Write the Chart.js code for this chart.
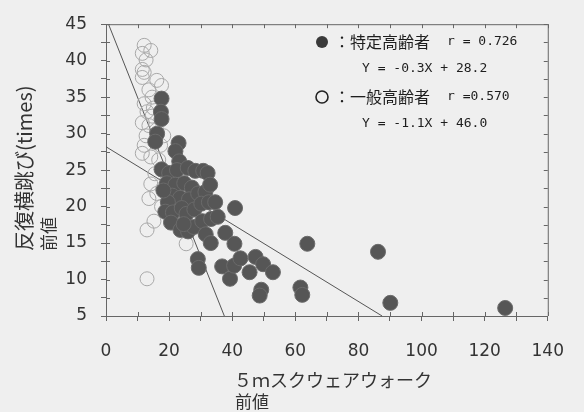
<!DOCTYPE html>
<html lang="ja">
<head>
<meta charset="utf-8">
<script src="https://cdn.jsdelivr.net/npm/chart.js@4"></script>
<style>
  html, body { margin: 0; padding: 0; background: #efefef; }
  #wrap { width: 584px; height: 412px; }
</style>
</head>
<body>
<div id="wrap"><canvas id="scatterChart" width="584" height="412"></canvas></div>
<script>
// 特定高齢者 (塗りつぶし)
const tokuteiX = [17.6, 17.4, 17.6, 16.2, 15.6, 23.0, 22.0, 23.2, 17.6, 20.0, 22.5, 25.9, 28.3, 30.8, 32.2,
  19.3, 22.0, 24.8, 27.2, 21.0, 23.5, 26.3, 29.2, 31.5, 19.6, 18.8, 21.2, 24.0, 25.5, 28.0, 30.2, 32.6, 34.6,
  40.9, 20.6, 23.6, 26.0, 27.8, 30.5, 33.3, 35.4, 31.6, 33.2, 37.8, 40.7, 29.1, 29.4, 36.8, 39.3, 40.6, 42.6,
  45.5, 47.4, 49.8, 52.9, 49.2, 48.7, 61.6, 62.2, 63.8, 86.2, 90.1, 126.5, 18.2, 33.0, 24.6];
const tokuteiY = [34.8, 33.0, 32.0, 30.0, 28.9, 28.7, 27.6, 26.2, 25.1, 24.6, 25.0, 25.3, 24.9, 24.9, 24.6,
  23.2, 23.0, 23.2, 22.6, 21.5, 21.2, 21.0, 21.8, 22.0, 20.6, 19.3, 19.2, 19.8, 19.0, 19.6, 20.4, 20.6, 20.6,
  19.8, 17.8, 16.8, 16.6, 17.2, 18.0, 18.3, 18.6, 16.2, 15.0, 16.4, 14.9, 12.8, 11.6, 11.8, 10.1, 11.9, 12.9,
  11.0, 13.1, 12.1, 11.0, 8.6, 7.8, 8.9, 7.9, 14.9, 13.8, 6.8, 6.1, 22.2, 23.0, 17.6];

// 一般高齢者 (白抜き)
const ippanX = [12.1, 14.2, 11.5, 12.7, 11.5, 12.1, 11.5, 16.1, 17.6, 13.6, 14.6, 12.1, 13.0, 14.6, 11.5,
  13.6, 12.7, 18.3, 12.1, 11.5, 14.2, 17.3, 16.7, 14.2, 13.6, 16.1, 15.2, 13.0, 13.0, 17.6, 25.4, 20.7,
  15.5, 18.0, 16.0, 15.0];
const ippanY = [42.1, 41.4, 41.0, 40.1, 38.8, 38.4, 37.7, 37.3, 36.6, 36.0, 35.0, 34.1, 33.0, 32.4, 31.5,
  31.1, 29.7, 29.7, 28.4, 27.3, 26.8, 28.4, 26.4, 23.1, 21.1, 21.8, 18.0, 16.8, 10.1, 20.0, 14.9, 18.2,
  24.5, 22.5, 30.5, 33.5];

// 回帰直線 (両端)
const tokuteiLineX = [0, 87.5];
const tokuteiLineY = [28.2, 5];
const ippanLineX = [0.8, 37.5];
const ippanLineY = [45, 5];

// 凡例テキスト
const legendNames = ['：特定高齢者', '：一般高齢者'];
const legendR = ['r = 0.726', 'r =0.570'];
const legendEq = ['Y = -0.3X + 28.2', 'Y = -1.1X + 46.0'];

// 軸
const xTickVals = [0, 10, 20, 30, 40, 50, 60, 70, 80, 90, 100, 110, 120, 130, 140];
const yTickVals = [5, 7.5, 10, 12.5, 15, 17.5, 20, 22.5, 25, 27.5, 30, 32.5, 35, 37.5, 40, 42.5, 45];
const xTitle = ['５ｍスクウェアウォーク', '前値'];
const yTitle = ['反復横跳び(times)', '前値'];

const toPts = (xs, ys) => xs.map((x, i) => ({ x: x, y: ys[i] }));

const axisColor = '#666';
const tickFont = { family: 'DejaVu Sans', size: 17 };

// 枠と内向きの目盛り、軸タイトル、凡例
const extras = {
    id: 'extras',
    afterDraw(chart) {
        const ctx = chart.ctx;
        const a = chart.chartArea;
        const xs = chart.scales.x, ys = chart.scales.y;
        ctx.save();
        ctx.strokeStyle = axisColor;
        ctx.lineWidth = 1;
        ctx.beginPath();
        ctx.moveTo(a.left, a.top + 0.5);
        ctx.lineTo(a.right + 0.5, a.top + 0.5);
        ctx.lineTo(a.right + 0.5, a.bottom);
        xTickVals.forEach(v => {
            const px = Math.round(xs.getPixelForValue(v)) + 0.5;
            ctx.moveTo(px, a.top); ctx.lineTo(px, a.top + 4);
            ctx.moveTo(px, a.bottom); ctx.lineTo(px, a.bottom - 4);
        });
        yTickVals.forEach(v => {
            const py = Math.round(ys.getPixelForValue(v)) + 0.5;
            ctx.moveTo(a.right, py); ctx.lineTo(a.right - 4, py);
            ctx.moveTo(a.left, py); ctx.lineTo(a.left + 4, py);
        });
        ctx.stroke();

        // 軸タイトル
        ctx.fillStyle = '#333';
        ctx.textBaseline = 'middle';
        ctx.textAlign = 'left';
        ctx.font = '18px "Noto Sans CJK JP"';
        ctx.fillText(xTitle[0], 234, 380);
        ctx.font = '17px "Noto Sans CJK JP"';
        ctx.fillText(xTitle[1], 235, 402);
        [[24, 20], [49, 17]].forEach((p, i) => {
            ctx.save();
            ctx.font = p[1] + 'px "Noto Sans CJK JP"';
            ctx.translate(p[0], 251);
            ctx.rotate(-Math.PI / 2);
            ctx.fillText(yTitle[i], 0, 0);
            ctx.restore();
        });

        // 凡例
        const rows = [42, 97];
        rows.forEach((ry, i) => {
            ctx.beginPath();
            ctx.arc(322, ry, 6, 0, Math.PI * 2);
            if (i === 0) {
                ctx.fillStyle = '#3a3a3a';
                ctx.fill();
            } else {
                ctx.strokeStyle = '#222';
                ctx.lineWidth = 1.6;
                ctx.stroke();
            }
            ctx.fillStyle = '#1e1e1e';
            ctx.font = '16px "Noto Sans CJK JP"';
            ctx.fillText(legendNames[i], 334, ry);
            ctx.font = '13px "DejaVu Sans Mono"';
            ctx.fillText(legendR[i], 447, ry);
            ctx.fillText(legendEq[i], 362, ry + 27);
        });
        ctx.restore();
    }
};

new Chart(document.getElementById('scatterChart'), {
    type: 'scatter',
    data: {
        datasets: [{
            label: '特定高齢者',
            data: toPts(tokuteiX, tokuteiY),
            backgroundColor: '#565656',
            borderColor: '#6a6a6a',
            borderWidth: 1,
            pointRadius: 7.5
        }, {
            label: '一般高齢者',
            data: toPts(ippanX, ippanY),
            backgroundColor: 'rgba(0,0,0,0)',
            borderColor: '#a8a8a8',
            borderWidth: 1,
            pointRadius: 7
        }, {
            type: 'line',
            label: '特定回帰',
            data: toPts(tokuteiLineX, tokuteiLineY),
            borderColor: '#555',
            borderWidth: 1,
            pointRadius: 0,
            fill: false
        }, {
            type: 'line',
            label: '一般回帰',
            data: toPts(ippanLineX, ippanLineY),
            borderColor: '#555',
            borderWidth: 1,
            pointRadius: 0,
            fill: false
        }]
    },
    options: {
        responsive: false,
        animation: false,
        devicePixelRatio: 1,
        layout: { padding: { top: 15, right: 26, left: 0, bottom: 0 } },
        plugins: {
            legend: { display: false },
            tooltip: { enabled: false }
        },
        scales: {
            x: {
                type: 'linear',
                min: 0,
                max: 140,
                afterBuildTicks: s => { s.ticks = xTickVals.map(v => ({ value: v })); },
                afterFit: s => { s.height = 96; },
                ticks: {
                    autoSkip: false,
                    maxRotation: 0,
                    padding: 20,
                    color: '#333',
                    font: tickFont,
                    callback: v => (v % 20 === 0 ? v : '')
                },
                grid: { drawOnChartArea: false, tickLength: 5, color: axisColor },
                border: { color: axisColor, width: 1 }
            },
            y: {
                type: 'linear',
                min: 5,
                max: 45,
                afterBuildTicks: s => { s.ticks = yTickVals.map(v => ({ value: v })); },
                afterFit: s => { s.width = 106; },
                ticks: {
                    autoSkip: false,
                    padding: 14,
                    color: '#333',
                    font: tickFont,
                    callback: v => (v % 5 === 0 ? v : '')
                },
                grid: { drawOnChartArea: false, tickLength: 5, color: axisColor },
                border: { color: axisColor, width: 1 }
            }
        }
    },
    plugins: [extras]
});
</script>
</body>
</html>
